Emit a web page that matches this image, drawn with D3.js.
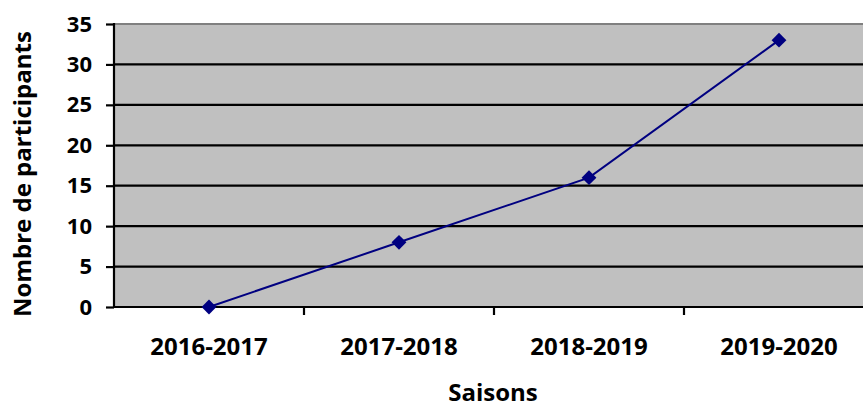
<!DOCTYPE html>
<html>
<head>
<meta charset="utf-8">
<script src="https://cdn.jsdelivr.net/npm/d3@7"></script>
<style>
  body { margin: 0; background: #fff; }
  text { font-family: "Open Sans", "Liberation Sans", sans-serif; font-weight: bold; }
</style>
</head>
<body>
<div class="chart"></div>
<script>
var width = 863;
var height = 407;

var seasons = ["2016-2017", "2017-2018", "2018-2019", "2019-2020"];
var participants = [0, 8, 16, 33];
var yTicks = [0, 5, 10, 15, 20, 25, 30, 35];

// plot box (note: "top" is reserved on window, so use plotTop)
var plotLeft = 114, plotTop = 24, plotRight = 874, plotBottom = 307;

var svg = d3.select(".chart").append("svg")
  .attr("width", width)
  .attr("height", height);

var x = d3.scaleBand().domain(seasons).range([plotLeft, plotRight]);
var y = d3.scaleLinear().domain([0, 35]).range([plotBottom, plotTop]);

// plot background
svg.append("rect")
  .attr("x", plotLeft).attr("y", plotTop)
  .attr("width", plotRight - plotLeft).attr("height", plotBottom - plotTop)
  .attr("fill", "#c0c0c0");

svg.append("line")
  .attr("x1", plotLeft).attr("x2", plotRight)
  .attr("y1", plotTop).attr("y2", plotTop)
  .attr("stroke", "#808080").attr("stroke-width", 2);

// gridlines
svg.selectAll(".grid").data(yTicks.slice(1, -1)).enter().append("line")
  .attr("class", "grid")
  .attr("x1", plotLeft).attr("x2", plotRight)
  .attr("y1", function(d){ return y(d); })
  .attr("y2", function(d){ return y(d); })
  .attr("stroke", "#000").attr("stroke-width", 2.2);

// y axis
var yAxis = svg.append("g")
  .attr("transform", "translate(" + plotLeft + ",0)")
  .call(d3.axisLeft(y).tickValues(yTicks).tickSize(8).tickPadding(14));
yAxis.select(".domain").attr("stroke-width", 2.2).attr("d", "M0," + (plotTop - 1) + "V" + (plotBottom + 1));
yAxis.selectAll(".tick line").attr("stroke-width", 2.2);
yAxis.selectAll("text").attr("font-size", 22).attr("fill", "#000");

// x axis
var xAxis = svg.append("g")
  .attr("transform", "translate(0," + plotBottom + ")")
  .call(d3.axisBottom(x).tickSize(0).tickPadding(31));
xAxis.select(".domain").attr("stroke-width", 2.2).attr("d", "M" + plotLeft + ",0H" + plotRight);
xAxis.selectAll("text").attr("font-size", 24).attr("fill", "#000");

svg.selectAll(".xtick").data(seasons.slice(1)).enter().append("line")
  .attr("class", "xtick")
  .attr("x1", function(d){ return x(d); })
  .attr("x2", function(d){ return x(d); })
  .attr("y1", plotBottom).attr("y2", plotBottom + 8)
  .attr("stroke", "#000").attr("stroke-width", 2.2);

// line
var line = d3.line()
  .x(function(d, i){ return x(seasons[i]) + x.bandwidth() / 2; })
  .y(function(d){ return y(d); });

svg.append("path")
  .datum(participants)
  .attr("d", line)
  .attr("fill", "none")
  .attr("stroke", "#000080")
  .attr("stroke-width", 2);

svg.selectAll(".pt").data(participants).enter().append("path")
  .attr("class", "pt")
  .attr("d", d3.symbol().type(d3.symbolDiamond2).size(140))
  .attr("transform", function(d, i){
    return "translate(" + (x(seasons[i]) + x.bandwidth() / 2) + "," + y(d) + ")";
  })
  .attr("fill", "#000080");

// titles
svg.append("text")
  .attr("x", 493).attr("y", 401)
  .attr("text-anchor", "middle")
  .attr("font-size", 24)
  .text("Saisons");

svg.append("text")
  .attr("transform", "translate(31,174) rotate(-90)")
  .attr("text-anchor", "middle")
  .attr("font-size", 24)
  .text("Nombre de participants");
</script>
</body>
</html>
